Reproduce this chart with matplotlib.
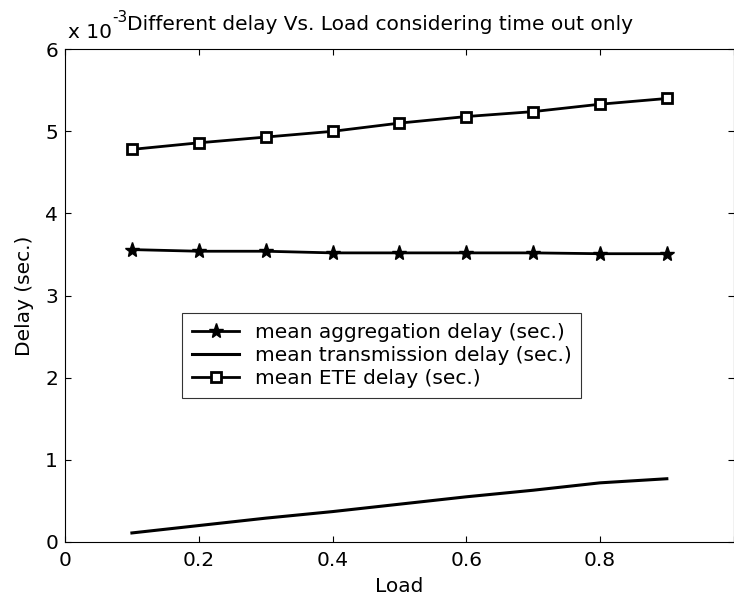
import matplotlib
matplotlib.use("Agg")
import matplotlib.pyplot as plt

plt.rcParams["font.family"] = ["DejaVu Sans"]

# offered load and the three delay curves (in units of 1e-3 s)
load = [0.1, 0.2, 0.3, 0.4, 0.5, 0.6, 0.7, 0.8, 0.9]
agg_delay = [3.56, 3.54, 3.54, 3.52, 3.52, 3.52, 3.52, 3.51, 3.51]
trans_delay = [0.11, 0.20, 0.29, 0.37, 0.46, 0.55, 0.63, 0.72, 0.77]
ete_delay = [4.78, 4.86, 4.93, 5.00, 5.10, 5.18, 5.24, 5.33, 5.40]

xticks = [0, 0.2, 0.4, 0.6, 0.8, 1.0]
xtick_labels = ["0", "0.2", "0.4", "0.6", "0.8", ""]
yticks = [0, 1, 2, 3, 4, 5, 6]

FS = 14.5

fig = plt.figure(figsize=(7.34, 6.0), dpi=100)
ax = fig.add_axes([0.0886, 0.0967, 0.911, 0.8213])

ax.plot(load, agg_delay, "k-", marker="*", ms=11, lw=2,
        label="mean aggregation delay (sec.)")
ax.plot(load, trans_delay, "k-", lw=2.2, label="mean transmission delay (sec.)")
ax.plot(load, ete_delay, "k-", marker="s", ms=7.5, mfc="white", mew=2, lw=2,
        label="mean ETE delay (sec.)")

ax.set_xlim(0, 1)
ax.set_ylim(0, 6)
ax.set_xticks(xticks)
ax.set_xticklabels(xtick_labels)
ax.set_yticks(yticks)
ax.tick_params(direction="in", top=True, right=True, labelsize=FS, length=4, pad=5)
ax.tick_params(axis="x", pad=6.5)
for s in ax.spines.values():
    s.set_linewidth(0.8)

ax.set_xlabel("Load", fontsize=FS, labelpad=5)
ax.set_ylabel("Delay (sec.)", fontsize=FS, labelpad=8)

# MATLAB-style exponent label tucked against the title
fig.text(0.093, 0.937, "x 10", fontsize=FS, ha="left", va="baseline")
fig.text(0.153, 0.963, "-3", fontsize=11, ha="left", va="baseline")
fig.text(0.173, 0.95, "Different delay Vs. Load considering time out only",
         fontsize=FS, ha="left", va="baseline")

leg = ax.legend(loc="upper left", bbox_to_anchor=(0.175, 0.465), fontsize=FS,
                frameon=True, fancybox=False, handlelength=2.35,
                borderpad=0.5, labelspacing=0.2, handletextpad=0.75,
                borderaxespad=0)
leg.get_frame().set_edgecolor("black")
leg.get_frame().set_linewidth(0.8)

fig.savefig("out.png", dpi=100)
